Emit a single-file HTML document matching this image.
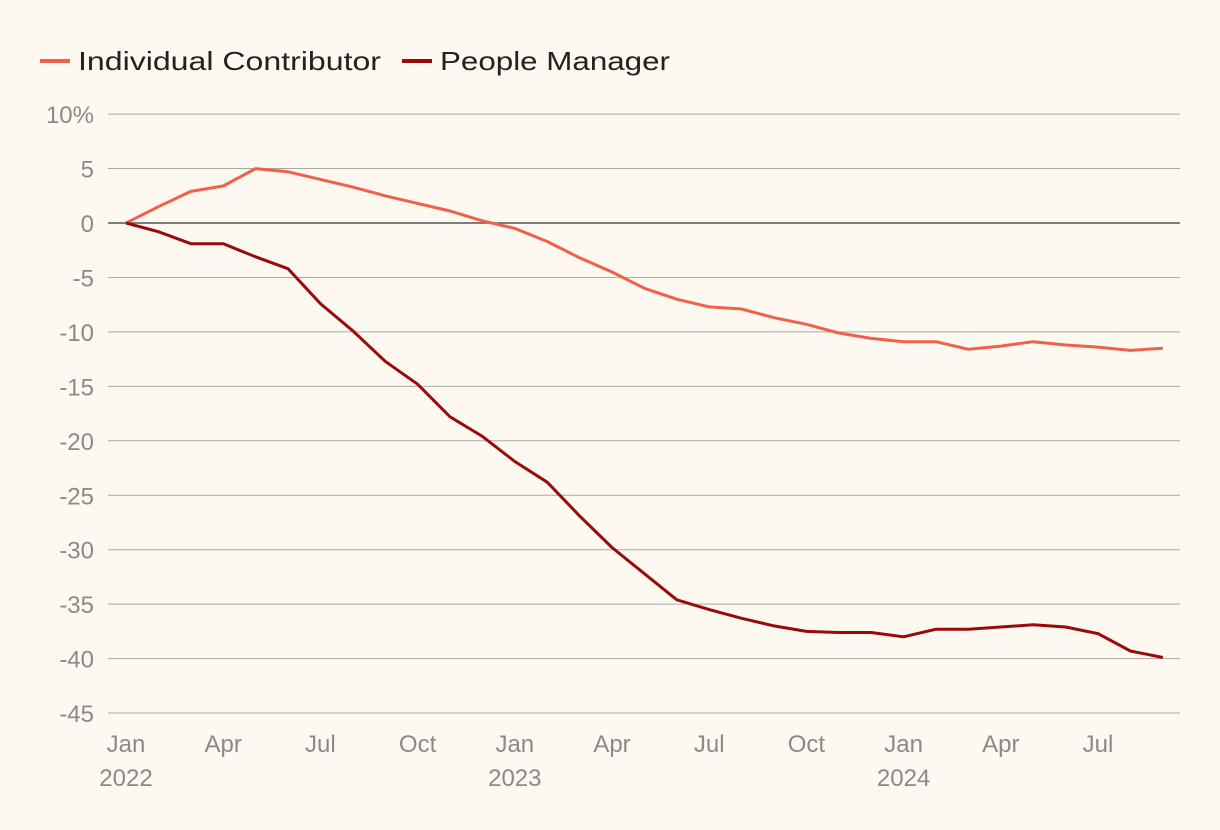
<!DOCTYPE html>
<html><head><meta charset="utf-8"><style>
html,body{margin:0;padding:0;background:#fdf9f1;}
svg{display:block;font-family:"Liberation Sans",sans-serif;}
</style></head><body>
<svg id="chart" width="1220" height="830">
<rect width="1220" height="830" fill="#fdf9f1"/>
<g>
<line x1="40" y1="61" x2="70" y2="61" stroke="#f0604a" stroke-width="4"/>
<text x="78" y="70" font-size="26" fill="#222" textLength="303" lengthAdjust="spacingAndGlyphs">Individual Contributor</text>
<line x1="402" y1="61" x2="432" y2="61" stroke="#9b0a0a" stroke-width="4"/>
<text x="440" y="70" font-size="26" fill="#222" textLength="230" lengthAdjust="spacingAndGlyphs">People Manager</text>
</g>
<g id="grid"></g><g id="xaxis"></g><g id="lines"></g>
</svg>
<script>
const yTicks=[10,5,0,-5,-10,-15,-20,-25,-30,-35,-40,-45];
const xTickMonths=[0,3,6,9,12,15,18,21,24,27,30];
const xTickLabels=["Jan","Apr","Jul","Oct","Jan","Apr","Jul","Oct","Jan","Apr","Jul"];
const yearLabels=["2022","2023","2024"];
const individualContributor=[0,1.5,2.9,3.4,5.0,4.7,4.0,3.3,2.5,1.8,1.1,0.2,-0.5,-1.7,-3.2,-4.5,-6.0,-7.0,-7.7,-7.9,-8.7,-9.3,-10.1,-10.6,-10.9,-10.9,-11.6,-11.3,-10.9,-11.2,-11.4,-11.7,-11.5];
const peopleManager=[0,-0.8,-1.9,-1.9,-3.1,-4.2,-7.4,-9.9,-12.7,-14.8,-17.8,-19.6,-21.9,-23.8,-26.9,-29.8,-32.2,-34.6,-35.5,-36.3,-37.0,-37.5,-37.6,-37.6,-38.0,-37.3,-37.3,-37.1,-36.9,-37.1,-37.7,-39.3,-39.9];
const NS="http://www.w3.org/2000/svg";
const x=m=>126+m*32.4;
const y=v=>223-v*10.89;
function mk(tag,attrs,parent,txt){const e=document.createElementNS(NS,tag);for(const k in attrs)e.setAttribute(k,attrs[k]);if(txt!==undefined)e.textContent=txt;parent.appendChild(e);return e;}
const grid=document.getElementById('grid');
yTicks.forEach((t,i)=>{
  const l=mk('line',{x1:108,x2:1180,y1:y(t),y2:y(t),stroke:t===0?'#555':'#aaa','stroke-width':t===0?1.5:1},grid);
  
  
  const tx=mk('text',{x:94,y:y(t)+9,'font-size':24,fill:'#8a8a8a','text-anchor':'end'},grid,i===0?t+'%':String(t));
  
  
});
const xa=document.getElementById('xaxis');
xTickMonths.forEach((m,i)=>{
  const tx=mk('text',{x:x(m),y:752,'font-size':24,fill:'#8a8a8a','text-anchor':'middle'},xa,xTickLabels[i]);
  
  
});
yearLabels.forEach((yr,i)=>{
  const tx=mk('text',{x:x(i*12),y:786,'font-size':24,fill:'#8a8a8a','text-anchor':'middle'},xa,yr);
  
  
});
const lines=document.getElementById('lines');
function series(data,color,name){
  const d=data.map((v,i)=>(i?'L':'M')+x(i).toFixed(1)+' '+y(v).toFixed(1)).join(' ');
  const p=mk('path',{d:d,fill:'none',stroke:color,'stroke-width':3,'stroke-linejoin':'round'},lines);
  
  
}
series(individualContributor,'#f0604a','individual-contributor-line');
series(peopleManager,'#9b0a0a','people-manager-line');
</script>
</body></html>
